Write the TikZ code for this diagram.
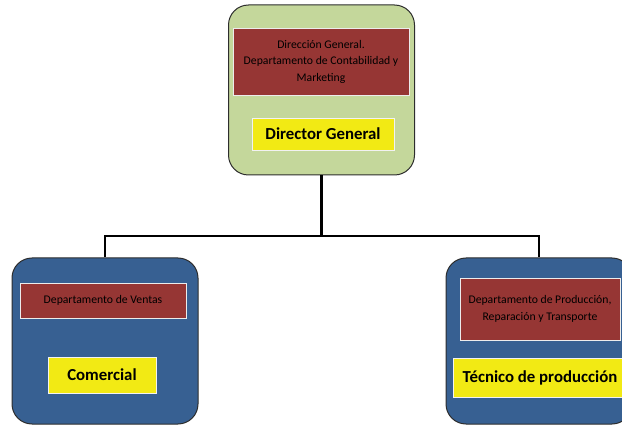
\documentclass[tikz,border=0pt]{standalone}
\usepackage{fontspec}
\setmainfont{Carlito}
\usepackage{tikz}
\usetikzlibrary{calc,positioning}
\definecolor{boxgreen}{RGB}{196,215,155}
\definecolor{boxblue}{RGB}{55,96,146}
\definecolor{deptred}{RGB}{150,54,52}
\definecolor{roleyellow}{RGB}{242,234,20}
\definecolor{boxedge}{RGB}{45,45,45}
\tikzstyle{unit}=[rounded corners=20pt,draw=boxedge,line width=1pt,inner sep=0pt]
\tikzstyle{top unit}=[unit,fill=boxgreen]
\tikzstyle{sub unit}=[unit,fill=boxblue]
\tikzstyle{dept}=[fill=deptred,draw=white!85!gray,line width=0.8pt,align=center,text=black,font=\fontsize{11.7}{16.5}\selectfont,inner sep=0pt]
\tikzstyle{role}=[fill=roleyellow,draw=white!90!gray,line width=0.8pt,text=black,font=\bfseries\fontsize{16.8}{20}\selectfont,inner sep=0pt]
\tikzstyle{link}=[draw=black,line width=2pt]

\begin{document}
\begin{tikzpicture}[x=1pt,y=-1pt]
\def\unitw{186pt}
\def\unith{166pt}

    \clip (0,0) rectangle (622,425);
    \useasboundingbox (0,0) rectangle (622,425);

    % direccion
    \node[top unit, minimum width=\unitw, minimum height=170pt] (dir) at (321.5,90) {};
    \node[dept, minimum width=176pt, minimum height=67pt] (dir-dept) at (321,61.5)
        {Dirección General.\\Departamento de Contabilidad y\\Marketing};
    \node[role, minimum width=142pt, minimum height=32pt] (dir-role) at (323,134) {Director General};

    % ventas
    \node[sub unit, minimum width=\unitw, minimum height=\unith] (ven) at (105,341) {};
    \node[dept, minimum width=166pt, minimum height=35pt] (ven-dept) at (103,300.5) {Departamento de Ventas};
    \node[role, minimum width=108pt, minimum height=36pt] (ven-role) at (102,375) {Comercial};

    % produccion
    \node[sub unit, minimum width=\unitw, minimum height=\unith] (pro) at (539,341) {};
    \node[dept, minimum width=160pt, minimum height=62pt] (pro-dept) at (540,309)
        {Departamento de Producción,\\Reparación y Transporte};
    \node[role, minimum width=174pt, minimum height=39pt] (pro-role) at (540,377.5) {Técnico de producción};

    \coordinate (split) at ($(dir.south)+(0,61)$);
    \draw[link, line width=2.5pt] (dir.south) -- (split);
    \draw[link] (ven.north) |- (split) -| (pro.north);
\end{tikzpicture}
\end{document}
